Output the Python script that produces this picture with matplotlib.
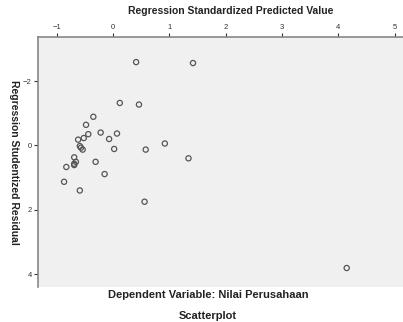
import matplotlib
matplotlib.use("Agg")
import matplotlib.pyplot as plt

# Data read from the (vertically flipped) SPSS scatterplot
pred = [0.41, 1.42, 0.12, 0.46, -0.35, -0.48, -0.22, 0.07, -0.44, -0.52,
        -0.62, -0.07, 0.92, -0.59, -0.57, -0.54, 0.02, 0.58, 1.34, -0.69,
        -0.66, -0.69, -0.69, -0.31, -0.83, -0.15, -0.87, -0.59, 0.56, 4.15]
resid = [-2.59, -2.56, -1.32, -1.27, -0.89, -0.64, -0.40, -0.37, -0.35, -0.23,
         -0.18, -0.20, -0.06, 0.02, 0.07, 0.13, 0.11, 0.13, 0.40, 0.37,
         0.51, 0.57, 0.61, 0.51, 0.67, 0.89, 1.13, 1.40, 1.75, 3.81]
xticks = [-1, 0, 1, 2, 3, 4, 5]
yticks = [-2, 0, 2, 4]

plt.rcParams['font.family'] = ['Liberation Sans', 'DejaVu Sans']

W, H = 403, 322
fig = plt.figure(figsize=(W / 100, H / 100), dpi=100)
fig.patch.set_facecolor('white')

# axes in pixel coordinates: left 38, top 37, bottom 287, right beyond figure
left, top, bottom = 38, 37, 287
xlo, xhi = -1.333, 5.5
xscale = 56.3
right = left + (xhi - xlo) * xscale
ax = fig.add_axes([left / W, (H - bottom) / H, (right - left) / W, (bottom - top) / H])
ax.set_facecolor('#f0f0f0')

ax.scatter(pred, resid, s=14, facecolors='none', edgecolors='#555555', linewidths=0.9, zorder=3)

ax.set_xlim(xlo, xhi)
ax.set_ylim(4.4, -3.37)
ax.xaxis.tick_top()
ax.xaxis.set_label_position('top')
ax.set_xticks(xticks)
ax.set_yticks(yticks)
ax.tick_params(axis='both', labelsize=5.5, colors='#333333', length=3, width=0.8, pad=1.5)
for s in ['left', 'top']:
    ax.spines[s].set_color('#888888')
    ax.spines[s].set_linewidth(1.2)
for s in ['right', 'bottom']:
    ax.spines[s].set_visible(False)

ax.set_xlabel('Regression Standardized Predicted Value', fontsize=7.5, fontweight='bold',
              color='#222222', labelpad=7)

fig.text(14 / W, 1 - 162 / H, 'Regression Studentized Residual', fontsize=7.5,
         fontweight='bold', color='#222222', ha='center', va='center', rotation=270)

fig.text(208 / W, 1 - 295 / H, 'Dependent Variable: Nilai Perusahaan', fontsize=8,
         fontweight='bold', color='#222222', ha='center', va='center')
fig.text(208 / W, 1 - 316 / H, 'Scatterplot', fontsize=8, fontweight='bold',
         color='#222222', ha='center', va='center')

fig.savefig('out.png', dpi=100)
